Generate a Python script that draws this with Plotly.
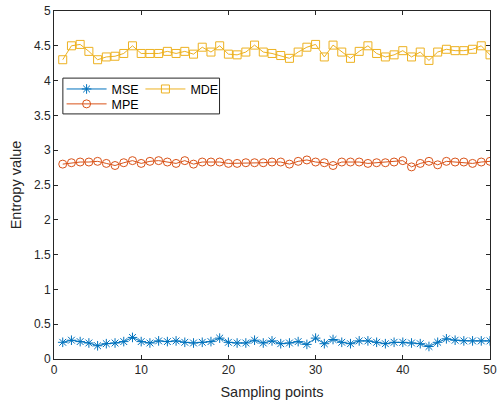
import plotly.graph_objects as go

x = list(range(1, 51))

mse = [0.24, 0.27, 0.25, 0.23, 0.19, 0.22, 0.23, 0.25, 0.31, 0.25,
       0.23, 0.26, 0.25, 0.26, 0.24, 0.23, 0.24, 0.25, 0.30, 0.24,
       0.23, 0.23, 0.27, 0.23, 0.26, 0.22, 0.23, 0.25, 0.21, 0.30,
       0.22, 0.28, 0.24, 0.22, 0.26, 0.26, 0.24, 0.22, 0.24, 0.24,
       0.23, 0.22, 0.18, 0.24, 0.29, 0.27, 0.26, 0.26, 0.26, 0.26]

mpe = [2.80, 2.82, 2.83, 2.83, 2.84, 2.81, 2.78, 2.82, 2.85, 2.81,
       2.84, 2.85, 2.83, 2.81, 2.85, 2.80, 2.83, 2.83, 2.83, 2.81,
       2.81, 2.82, 2.82, 2.82, 2.83, 2.83, 2.80, 2.84, 2.86, 2.83,
       2.82, 2.78, 2.83, 2.83, 2.83, 2.81, 2.82, 2.82, 2.83, 2.85,
       2.76, 2.81, 2.84, 2.79, 2.84, 2.83, 2.83, 2.81, 2.83, 2.84]

mde = [4.30, 4.50, 4.52, 4.42, 4.30, 4.34, 4.35, 4.39, 4.50, 4.39,
       4.39, 4.39, 4.42, 4.39, 4.42, 4.38, 4.48, 4.41, 4.50, 4.38,
       4.37, 4.41, 4.51, 4.41, 4.39, 4.36, 4.32, 4.41, 4.48, 4.52,
       4.34, 4.51, 4.41, 4.32, 4.42, 4.50, 4.39, 4.34, 4.37, 4.43,
       4.34, 4.41, 4.29, 4.41, 4.45, 4.43, 4.43, 4.45, 4.50, 4.37]

x_ticks = [0, 10, 20, 30, 40, 50]
y_ticks = [0, 0.5, 1, 1.5, 2, 2.5, 3, 3.5, 4, 4.5, 5]
y_tick_text = ["0", "0.5", "1", "1.5", "2", "2.5", "3", "3.5", "4", "4.5", "5"]

C_MSE = "#0072BD"
C_MPE = "#D95319"
C_MDE = "#EDB120"
AX = "#262626"

fig = go.Figure()
fig.add_trace(go.Scatter(x=x, y=mse, name="MSE", mode="lines+markers",
                         line=dict(color=C_MSE, width=1),
                         marker=dict(symbol="asterisk-open", size=8, color=C_MSE,
                                     line=dict(width=1, color=C_MSE)),
                         legend="legend"))
fig.add_trace(go.Scatter(x=x, y=mpe, name="MPE", mode="lines+markers",
                         line=dict(color=C_MPE, width=1),
                         marker=dict(symbol="circle-open", size=8, color=C_MPE,
                                     line=dict(width=1, color=C_MPE)),
                         legend="legend3"))
fig.add_trace(go.Scatter(x=x, y=mde, name="MDE", mode="lines+markers",
                         line=dict(color=C_MDE, width=1),
                         marker=dict(symbol="square-open", size=8, color=C_MDE,
                                     line=dict(width=1, color=C_MDE)),
                         legend="legend2"))

W, H = 501, 406
L, R, T, B = 54, 4.5, 9.5, 46.5
pw, ph = W - L - R, H - T - B

def px(xp):
    return (xp - L) / pw

def py(yp):
    return (H - B - yp) / ph

leg_common = dict(bgcolor="rgba(0,0,0,0)", borderwidth=0, font=dict(size=12.5, color="#000000"),
                  xanchor="left", yanchor="middle", itemwidth=40)
fig.update_layout(
    legend=dict(x=px(61.7), y=py(88.3), **leg_common),
    legend2=dict(x=px(141.7), y=py(88.3), **leg_common),
    legend3=dict(x=px(61.7), y=py(103.3), **leg_common),
)

fig.add_shape(type="rect", xref="paper", yref="paper",
              x0=px(63), x1=px(222), y0=py(113), y1=py(77),
              line=dict(color=AX, width=1), fillcolor="white", layer="below")

axis_common = dict(showgrid=False, zeroline=False, showline=True, linecolor=AX, linewidth=1,
                   mirror="ticks", ticks="inside", ticklen=4, tickcolor=AX, tickwidth=1,
                   tickfont=dict(size=12, color=AX), ticklabeloverflow="allow")

fig.update_xaxes(range=[0, 50], tickvals=x_ticks,
                 title=dict(text="Sampling points", font=dict(size=14.5, color=AX), standoff=10),
                 **axis_common)
fig.update_yaxes(range=[0, 5], tickvals=y_ticks, ticktext=y_tick_text,
                 title=dict(text="Entropy value", font=dict(size=14.5, color=AX), standoff=8),
                 **axis_common)

fig.update_layout(width=W, height=H, margin=dict(l=L, r=R, t=T, b=B),
                  paper_bgcolor="white", plot_bgcolor="white",
                  font=dict(family="Liberation Sans, Arial, sans-serif"),
                  showlegend=True)

fig.write_html("out.html")
